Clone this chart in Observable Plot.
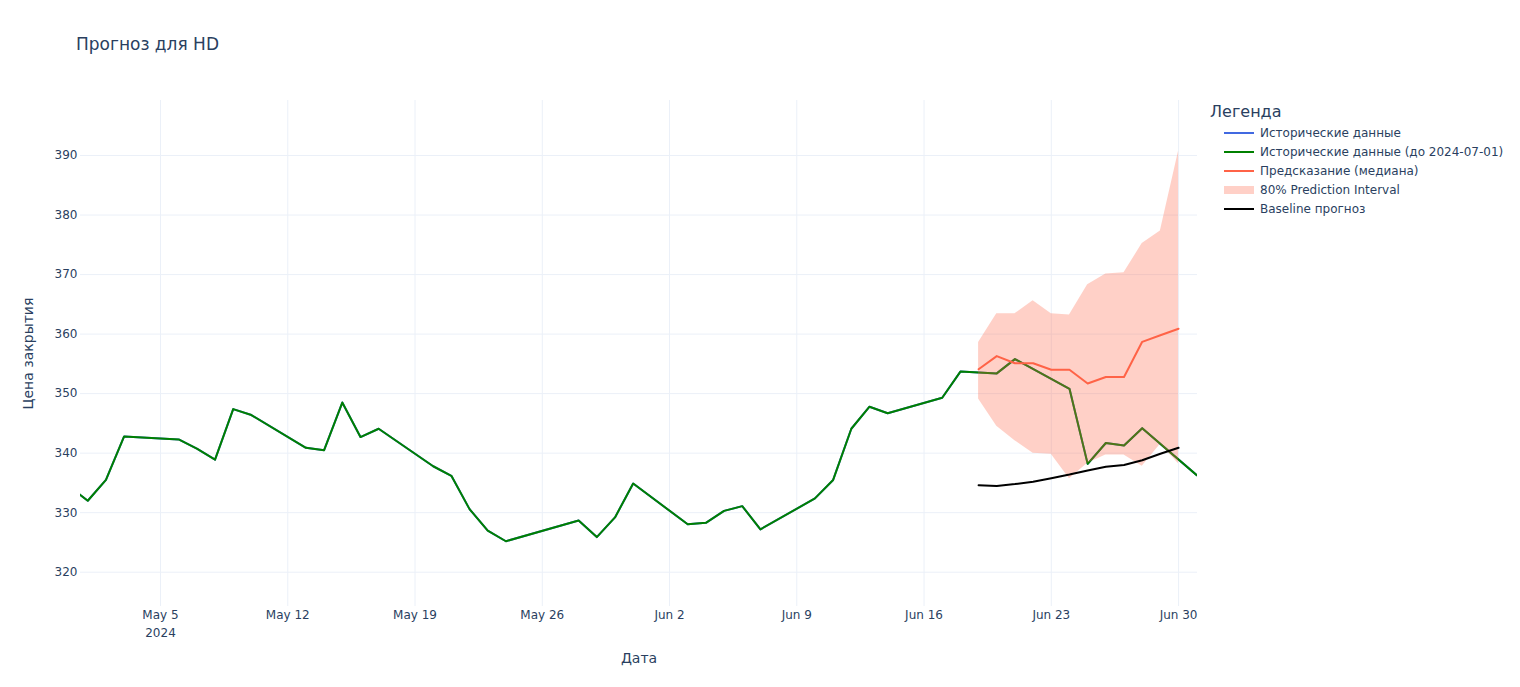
<!DOCTYPE html>
<html>
<head>
<meta charset="utf-8">
<script src="https://cdn.jsdelivr.net/npm/d3@7"></script>
<script src="https://cdn.jsdelivr.net/npm/@observablehq/plot@0.6"></script>
<style>
  html, body { margin: 0; padding: 0; background: #fff; }
  body { font-family: "DejaVu Sans", verdana, arial, sans-serif; color: #2a3f5f; }
  #wrap { position: relative; width: 1520px; height: 687px; overflow: hidden; }
  #title { height: 70px; box-sizing: border-box; padding-left: 76px; padding-top: 32px; font-size: 17px; line-height: 24px; color: #2a3f5f; }
  #row { display: flex; }
  #legend { position: absolute; left: 1210px; top: 101px; font-size: 12px; color: #2a3f5f; }
  #legend .lt { font-size: 16px; height: 22px; line-height: 22px; }
  #legend .it { display: flex; align-items: center; height: 19px; white-space: nowrap; }
  #legend svg { margin-left: 14px; margin-right: 6px; }
</style>
</head>
<body>
<div id="wrap">
  <div id="title">Прогноз для HD</div>
  <div id="row"><div id="chart"></div></div>
  <div id="legend"></div>
</div>
<script>
// ---- data ----
const histDates = ["2024-04-30","2024-05-01","2024-05-02","2024-05-03","2024-05-06","2024-05-07","2024-05-08","2024-05-09","2024-05-10",
  "2024-05-13","2024-05-14","2024-05-15","2024-05-16","2024-05-17","2024-05-20","2024-05-21","2024-05-22","2024-05-23","2024-05-24",
  "2024-05-28","2024-05-29","2024-05-30","2024-05-31","2024-06-03","2024-06-04","2024-06-05","2024-06-06","2024-06-07",
  "2024-06-10","2024-06-11","2024-06-12","2024-06-13","2024-06-14","2024-06-17","2024-06-18","2024-06-20","2024-06-21",
  "2024-06-24","2024-06-25","2024-06-26","2024-06-27","2024-06-28","2024-07-01"];
const histClose = [334.4,332.0,335.5,342.8,342.3,340.75,338.9,347.4,346.4,
  340.9,340.5,348.5,342.7,344.1,337.8,336.2,330.6,327.0,325.2,
  328.7,325.9,329.2,334.9,328.05,328.3,330.3,331.1,327.2,
  332.4,335.5,344.1,347.8,346.7,349.3,353.7,353.4,355.8,
  350.8,338.2,341.7,341.3,344.2,336.3];

const fcDates = ["2024-06-19","2024-06-20","2024-06-21","2024-06-22","2024-06-23","2024-06-24","2024-06-25","2024-06-26","2024-06-27","2024-06-28","2024-06-29","2024-06-30"];
const fcMedian = [354.1,356.3,355.1,355.1,354.0,354.0,351.7,352.8,352.8,358.7,359.8,360.9];
const fcUpper  = [358.6,363.4,363.4,365.6,363.4,363.2,368.3,370.1,370.3,375.2,377.3,390.7];
const fcLower  = [349.1,344.5,342.1,340.0,339.8,335.7,338.3,339.7,339.7,337.8,341.5,338.2];
const baseline = [334.6,334.5,334.8,335.2,335.8,336.4,337.1,337.7,338.0,338.8,339.9,340.9];

const xTickDates = ["2024-05-05","2024-05-12","2024-05-19","2024-05-26","2024-06-02","2024-06-09","2024-06-16","2024-06-23","2024-06-30"];
const yTicks = [320,330,340,350,360,370,380,390];
const xDomain = ["2024-04-30T14:24:00Z","2024-07-01T01:00:00Z"];
const yDomain = [314.24, 399.24];

const legendItems = [
  {label: "Исторические данные", color: "royalblue", w: 2},
  {label: "Исторические данные (до 2024-07-01)", color: "green", w: 2},
  {label: "Предсказание (медиана)", color: "tomato", w: 2},
  {label: "80% Prediction Interval", color: "rgba(255,99,71,0.3)", w: 8},
  {label: "Baseline прогноз", color: "black", w: 2}
];

// ---- tables ----
const P = d => new Date(d + (d.length === 10 ? "T00:00:00Z" : ""));
const hist = histDates.map((d, i) => ({date: P(d), close: histClose[i]}));
const fc = fcDates.map((d, i) => ({date: P(d), median: fcMedian[i], lo: fcLower[i], hi: fcUpper[i], base: baseline[i]}));
const xTicks = xTickDates.map(P);
const months = ["Jan","Feb","Mar","Apr","May","Jun","Jul","Aug","Sep","Oct","Nov","Dec"];
const fmt = d => months[d.getUTCMonth()] + " " + d.getUTCDate();

const grid = "#EBF0F8";
const chart = Plot.plot({
  width: 1210,
  height: 617,
  marginLeft: 80,
  marginRight: 13,
  marginTop: 30,
  marginBottom: 81,
  style: {fontFamily: '"DejaVu Sans", verdana, arial, sans-serif', fontSize: "12px", color: "#2a3f5f", background: "white"},
  x: {type: "utc", domain: xDomain.map(d => new Date(d)), axis: null},
  y: {domain: yDomain, axis: null},
  marks: [
    Plot.gridY(yTicks, {stroke: grid, strokeOpacity: 1, strokeWidth: 1}),
    Plot.gridX(xTicks, {stroke: grid, strokeOpacity: 1, strokeWidth: 1}),
    Plot.axisY(yTicks, {tickSize: 0, tickPadding: 3, fontSize: 12, fill: "#2a3f5f", label: null}),
    Plot.axisX(xTicks, {tickSize: 0, tickPadding: 4, fontSize: 12, fill: "#2a3f5f", tickFormat: fmt, label: null}),
    Plot.text([xTicks[0]], {x: d => d, frameAnchor: "bottom", dy: 30, text: d => String(d.getUTCFullYear()), fontSize: 12, fill: "#2a3f5f"}),
    Plot.text(["Дата"], {frameAnchor: "bottom", dy: 56, text: d => d, fontSize: 14, fill: "#2a3f5f"}),
    Plot.text(["Цена закрытия"], {frameAnchor: "left", textAnchor: "middle", dx: -52, rotate: -90, text: d => d, fontSize: 14, fill: "#2a3f5f"}),
    Plot.lineY(hist, {x: "date", y: "close", stroke: "royalblue", strokeWidth: 2, clip: true}),
    Plot.lineY(hist, {x: "date", y: "close", stroke: "green", strokeWidth: 2, clip: true}),
    Plot.areaY(fc, {x: "date", y1: "lo", y2: "hi", fill: "tomato", fillOpacity: 0.3, clip: true}),
    Plot.lineY(fc, {x: "date", y: "median", stroke: "tomato", strokeWidth: 2, clip: true}),
    Plot.lineY(fc, {x: "date", y: "base", stroke: "black", strokeWidth: 2, clip: true})
  ]
});
document.getElementById("chart").appendChild(chart);

// ---- legend ----
const lg = document.getElementById("legend");
const t = document.createElement("div");
t.className = "lt"; t.textContent = "Легенда";
lg.appendChild(t);
for (const it of legendItems) {
  const row = document.createElement("div");
  row.className = "it";
  row.innerHTML = `<svg width="30" height="10"><line x1="0" x2="30" y1="5" y2="5" stroke="${it.color}" stroke-width="${it.w}"/></svg><span></span>`;
  row.querySelector("span").textContent = it.label;
  lg.appendChild(row);
}
</script>
</body>
</html>
